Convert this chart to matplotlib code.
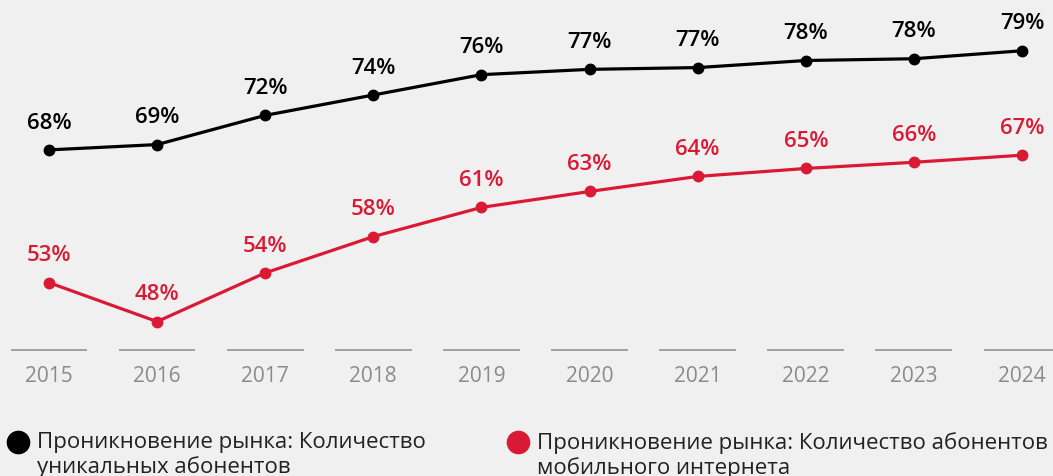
import matplotlib.pyplot as plt
from matplotlib.lines import Line2D

plt.rcParams['font.family'] = ['Open Sans', 'DejaVu Sans']

# данные
years = [2015, 2016, 2017, 2018, 2019, 2020, 2021, 2022, 2023, 2024]
unique_subs = [67.7, 68.3, 71.6, 73.9, 76.2, 76.8, 77.0, 77.8, 78.0, 78.9]
unique_labels = ["68%", "69%", "72%", "74%", "76%", "77%", "77%", "78%", "78%", "79%"]
mobile_inet = [52.7, 48.3, 53.8, 57.9, 61.2, 63.0, 64.7, 65.6, 66.3, 67.1]
mobile_labels = ["53%", "48%", "54%", "58%", "61%", "63%", "64%", "65%", "66%", "67%"]

legend_names = ["Проникновение рынка: Количество\nуникальных абонентов",
                "Проникновение рынка: Количество абонентов\nмобильного интернета"]

bg = "#f0f0f0"
black = "#000000"
red = "#da1a35"

fig = plt.figure(figsize=(10.53, 4.77), dpi=100)
fig.patch.set_facecolor(bg)
ax = fig.add_axes([0, 0, 1, 1])
ax.set_facecolor(bg)
ax.axis("off")
ax.set_xlim(2014.547, 2024.287)
ax.set_ylim(30.85, 84.75)

for vals, labs, col in [(unique_subs, unique_labels, black), (mobile_inet, mobile_labels, red)]:
    ax.plot(years, vals, color=col, lw=2.3, marker="o", ms=7.5, zorder=3)
    for x, v, t in zip(years, vals, labs):
        ax.annotate(t, (x, v), xytext=(0, 20), textcoords="offset points",
                    ha="center", va="center", fontsize=16, fontweight="semibold",
                    color=col)

# подписи оси x с короткими линиями
for x in years:
    ax.plot([x - 0.355, x + 0.355], [45.08, 45.08], color="#9a9a9a", lw=1.3,
            solid_capstyle="butt")
    ax.text(x, 42.2, str(x), ha="center", va="center", fontsize=15,
            color="#8a8a8a")

# легенда
for xm, xt, col, name in [(18, 37, black, legend_names[0]), (518, 537, red, legend_names[1])]:
    fig.add_artist(Line2D([xm / 1053], [1 - 443 / 477], marker="o", ms=16,
                          color=col, transform=fig.transFigure))
    fig.text(xt / 1053, 1 - 432 / 477, name, ha="left", va="top", fontsize=16,
             color="#222222", linespacing=1.2)

fig.savefig("out.png", dpi=100, facecolor=bg)
